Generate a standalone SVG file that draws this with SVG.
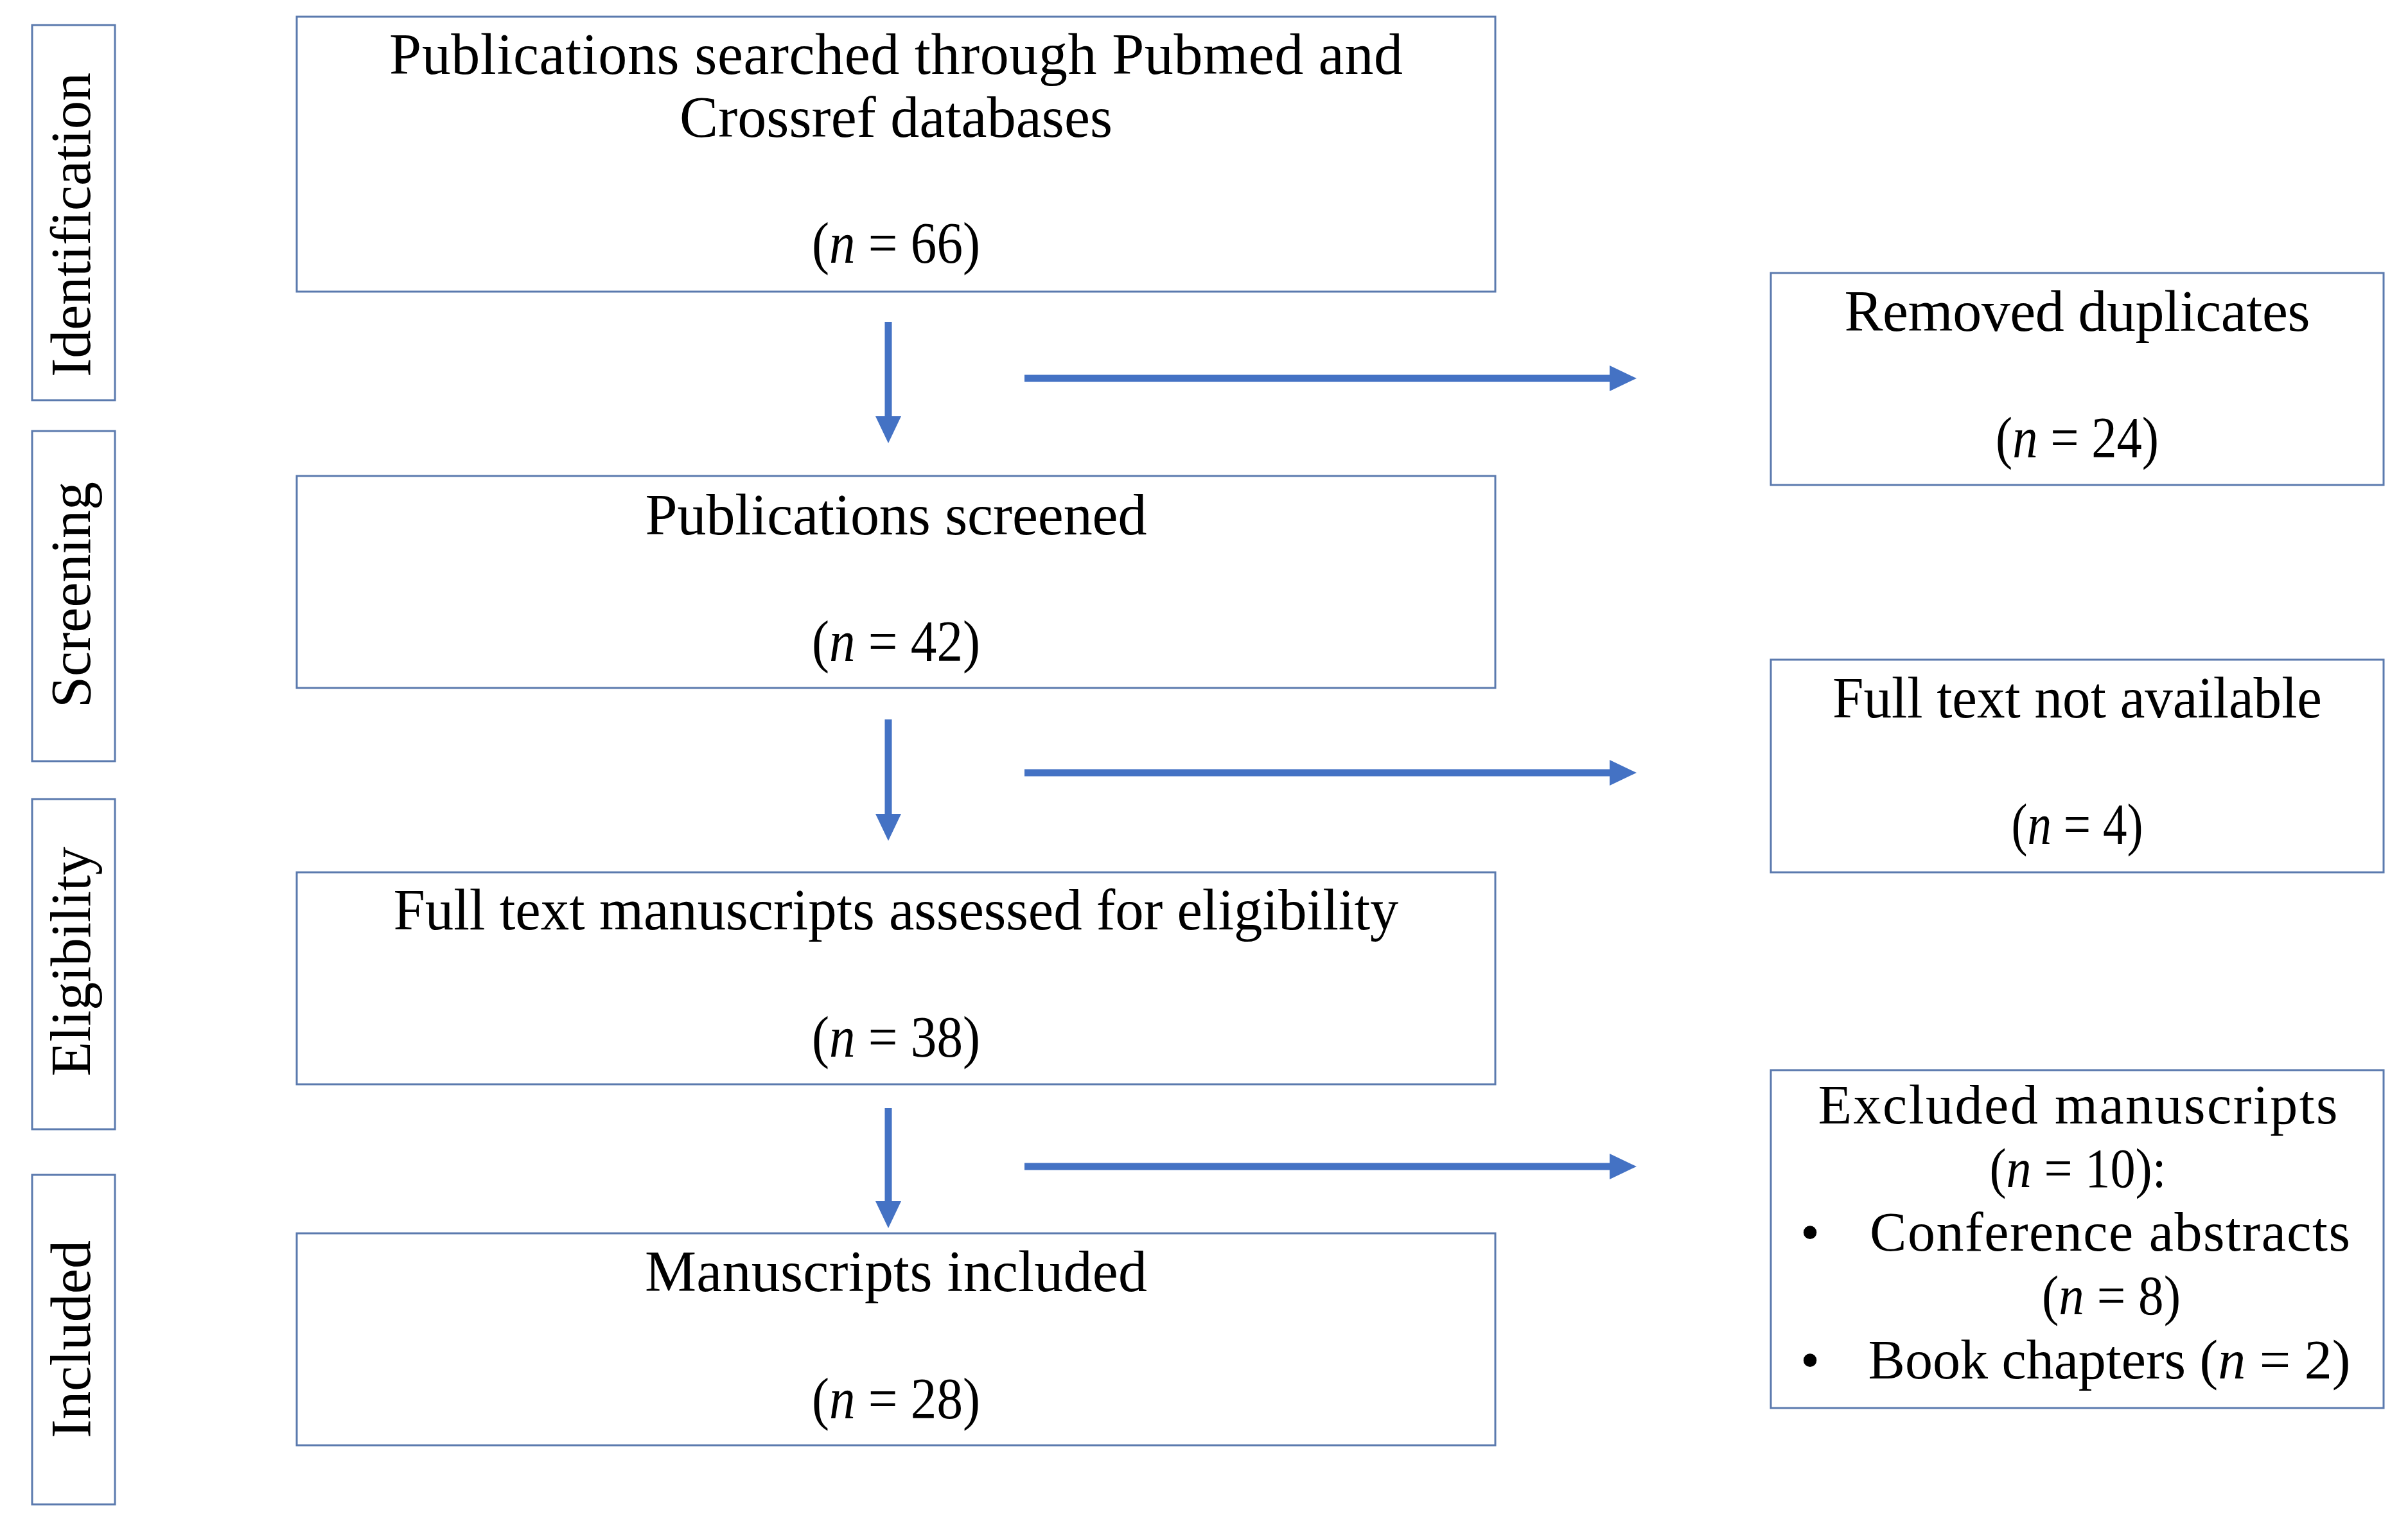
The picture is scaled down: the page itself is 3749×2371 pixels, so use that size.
<svg xmlns="http://www.w3.org/2000/svg" width="3749" height="2371" viewBox="0 0 3749 2371">
<style>
.box{fill:#ffffff;stroke:#5b7aae;stroke-width:3}
.t{font-family:"Liberation Serif","Times New Roman",serif;font-size:90px;fill:#000;text-anchor:middle}
.s{font-size:86px}
.lbl{font-family:"Liberation Serif","Times New Roman",serif;font-size:88px;fill:#000;text-anchor:middle}
.it{font-style:italic}
.conn{stroke:#4472C4;stroke-width:11;fill:none}
</style>
<defs>
<marker id="ah" markerUnits="userSpaceOnUse" markerWidth="42" markerHeight="40" refX="0" refY="20" orient="auto">
<path d="M0,0 L42,20 L0,40 z" fill="#4472C4"/>
</marker>
</defs>
<rect width="3749" height="2371" fill="#ffffff"/>

<g id="stage-identification">
<rect class="box" x="50" y="39" width="129" height="584"/>
<text class="lbl" transform="translate(140,350) rotate(-90)">Identification</text>
</g>
<g id="stage-screening">
<rect class="box" x="50" y="671" width="129" height="514"/>
<text class="lbl" transform="translate(140,926) rotate(-90)">Screening</text>
</g>
<g id="stage-eligibility">
<rect class="box" x="50" y="1244" width="129" height="514"/>
<text class="lbl" transform="translate(140,1497) rotate(-90)">Eligibility</text>
</g>
<g id="stage-included">
<rect class="box" x="50" y="1829" width="129" height="513"/>
<text class="lbl" transform="translate(140,2085) rotate(-90)">Included</text>
</g>

<g id="node-searched">
<rect class="box" x="462" y="26" width="1866" height="428"/>
<text class="t" x="1395" y="115" textLength="1578" lengthAdjust="spacing">Publications  searched through Pubmed and</text>
<text class="t" x="1395" y="213" textLength="674" lengthAdjust="spacing">Crossref databases</text>
<text class="t" x="1395" y="409" textLength="262" lengthAdjust="spacingAndGlyphs">(<tspan class="it">n</tspan> = 66)</text>
</g>

<g id="node-screened">
<rect class="box" x="462" y="741" width="1866" height="330"/>
<text class="t" x="1395" y="832" textLength="781" lengthAdjust="spacing">Publications  screened</text>
<text class="t" x="1395" y="1029" textLength="262" lengthAdjust="spacingAndGlyphs">(<tspan class="it">n</tspan> = 42)</text>
</g>

<g id="node-assessed">
<rect class="box" x="462" y="1358" width="1866" height="330"/>
<text class="t" x="1395" y="1447" textLength="1565" lengthAdjust="spacingAndGlyphs">Full  text manuscripts  assessed for eligibility</text>
<text class="t" x="1395" y="1645" textLength="262" lengthAdjust="spacingAndGlyphs">(<tspan class="it">n</tspan> = 38)</text>
</g>

<g id="node-included">
<rect class="box" x="462" y="1920" width="1866" height="330"/>
<text class="t" x="1395" y="2010" textLength="782" lengthAdjust="spacing">Manuscripts included</text>
<text class="t" x="1395" y="2208" textLength="262" lengthAdjust="spacingAndGlyphs">(<tspan class="it">n</tspan> = 28)</text>
</g>

<g id="node-duplicates">
<rect class="box" x="2757" y="425" width="954" height="330"/>
<text class="t" x="3234" y="515" textLength="725" lengthAdjust="spacing">Removed  duplicates</text>
<text class="t" x="3234" y="712" textLength="254" lengthAdjust="spacingAndGlyphs">(<tspan class="it">n</tspan> = 24)</text>
</g>

<g id="node-notavailable">
<rect class="box" x="2757" y="1027" width="954" height="331"/>
<text class="t" x="3234" y="1117" textLength="762" lengthAdjust="spacingAndGlyphs">Full  text not available</text>
<text class="t" x="3234" y="1314" textLength="205" lengthAdjust="spacingAndGlyphs">(<tspan class="it">n</tspan> = 4)</text>
</g>

<g id="node-excluded">
<rect class="box" x="2757" y="1666" width="954" height="526"/>
<text class="t s" x="3235" y="1749" textLength="809" lengthAdjust="spacing">Excluded  manuscripts</text>
<text class="t s" x="3235" y="1848" textLength="275" lengthAdjust="spacingAndGlyphs">(<tspan class="it">n</tspan> = 10):</text>
<text class="t s" x="2818" y="1947">•</text>
<text class="t s" x="3285" y="1947" textLength="748" lengthAdjust="spacing">Conference abstracts</text>
<text class="t s" x="3287" y="2046" textLength="216" lengthAdjust="spacingAndGlyphs">(<tspan class="it">n</tspan> = 8)</text>
<text class="t s" x="2818" y="2146">•</text>
<text class="t s" x="3284" y="2146" textLength="751" lengthAdjust="spacingAndGlyphs">Book chapters (<tspan class="it">n</tspan> = 2)</text>
</g>

<g id="connectors">
<line class="conn" x1="1383" y1="501" x2="1383" y2="648" marker-end="url(#ah)"/>
<line class="conn" x1="1595" y1="589" x2="2506" y2="589" marker-end="url(#ah)"/>
<line class="conn" x1="1383" y1="1120" x2="1383" y2="1267" marker-end="url(#ah)"/>
<line class="conn" x1="1595" y1="1203" x2="2506" y2="1203" marker-end="url(#ah)"/>
<line class="conn" x1="1383" y1="1725" x2="1383" y2="1870" marker-end="url(#ah)"/>
<line class="conn" x1="1595" y1="1816" x2="2506" y2="1816" marker-end="url(#ah)"/>
</g>
</svg>
